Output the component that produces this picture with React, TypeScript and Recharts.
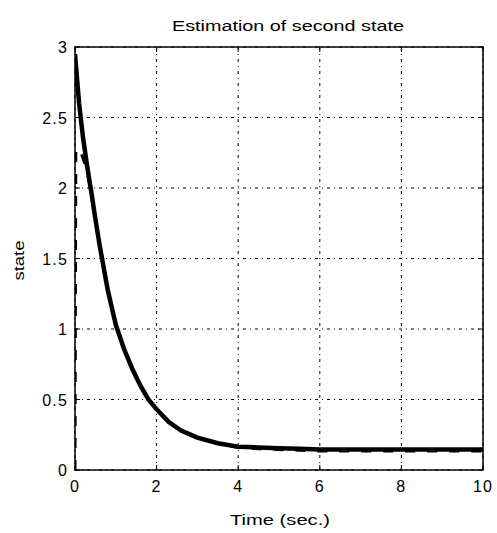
import React from "react"
import {
  LineChart,
  Line,
  XAxis,
  YAxis,
  CartesianGrid,
  ReferenceArea,
} from "recharts"

// estimated second state (solid)
const estTime = [0, 0.1, 0.2, 0.3, 0.4, 0.5, 0.6, 0.8, 1.0, 1.2, 1.4, 1.6, 1.8, 2.0, 2.3, 2.6, 3.0, 3.5, 4.0, 4.5, 5.0, 5.5, 6, 7, 8, 9, 10]
const estValue = [2.95, 2.6, 2.35, 2.15, 1.97, 1.78, 1.6, 1.28, 1.03, 0.86, 0.72, 0.6, 0.5, 0.43, 0.34, 0.28, 0.23, 0.19, 0.165, 0.16, 0.155, 0.15, 0.145, 0.145, 0.145, 0.145, 0.145]

// true second state (dashed)
const trueTime = [0, 0.02, 0.15, 0.3, 0.4, 0.5, 0.6, 0.8, 1.0, 1.2, 1.4, 1.6, 1.8, 2.0, 2.3, 2.6, 3.0, 3.5, 4.0, 4.5, 5.0, 5.5, 6, 7, 8, 9, 10]
const trueValue = [0, 2.28, 2.25, 2.12, 1.96, 1.78, 1.6, 1.28, 1.03, 0.86, 0.72, 0.6, 0.5, 0.43, 0.34, 0.28, 0.23, 0.19, 0.16, 0.15, 0.145, 0.14, 0.135, 0.135, 0.135, 0.135, 0.135]

const xTicks = [0, 2, 4, 6, 8, 10]
const yTicks = [0, 0.5, 1, 1.5, 2, 2.5, 3]

const estData = estTime.map((t, i) => ({ t, v: estValue[i] }))
const trueData = trueTime.map((t, i) => ({ t, v: trueValue[i] }))

const W = 497
const H = 533
const TOP = 47
const RIGHT = 14
const LEFT = 75
const BOTTOM = 63
const PLOT_H = H - TOP - BOTTOM
const PLOT_W = W - LEFT - RIGHT
const FONT = "'Liberation Sans', Arial, sans-serif"

function XTick(props: any) {
  const { x, y, payload } = props
  return (
    <g>
      <line x1={x} x2={x} y1={y} y2={y - 5} stroke="#000" />
      <line x1={x} x2={x} y1={y - PLOT_H} y2={y - PLOT_H + 5} stroke="#000" />
      <text x={x} y={y + 22} textAnchor="middle" fontSize={16} letterSpacing={1.2} fontFamily={FONT} fill="#000">
        {payload.value}
      </text>
    </g>
  )
}

function YTick(props: any) {
  const { x, y, payload } = props
  return (
    <g>
      <line x1={x} x2={x + 5} y1={y} y2={y} stroke="#000" />
      <line x1={x + PLOT_W} x2={x + PLOT_W - 5} y1={y} y2={y} stroke="#000" />
      <text x={x - 7} y={y + 6} textAnchor="end" fontSize={16} letterSpacing={1.2} fontFamily={FONT} fill="#000">
        {payload.value}
      </text>
    </g>
  )
}

export default function App() {
  const midY = TOP + PLOT_H / 2 + 2
  return (
    <div style={{ position: "absolute", left: 0, top: 0, width: W, height: H, background: "#fff" }}>
      <LineChart width={W} height={H} margin={{ top: TOP, right: RIGHT, bottom: 0, left: 0 }}>
        <text
          x={288}
          y={31}
          textAnchor="middle"
          fontSize={14}
          fontFamily={FONT}
          fill="#000"
          textLength={232}
          lengthAdjust="spacingAndGlyphs"
        >
          Estimation of second state
        </text>
        <text
          x={24}
          y={midY}
          textAnchor="middle"
          fontSize={14}
          fontFamily={FONT}
          fill="#000"
          textLength={40}
          lengthAdjust="spacingAndGlyphs"
          transform={`rotate(-90 24 ${midY})`}
        >
          state
        </text>
        <text
          x={280}
          y={H - 8}
          textAnchor="middle"
          fontSize={15}
          fontFamily={FONT}
          fill="#000"
          textLength={100}
          lengthAdjust="spacingAndGlyphs"
        >
          Time (sec.)
        </text>
        <CartesianGrid stroke="#000" strokeDasharray="3 4 1 4" />
        <XAxis
          type="number"
          dataKey="t"
          domain={[0, 10]}
          ticks={xTicks}
          height={BOTTOM}
          tickSize={0}
          tickMargin={0}
          tickLine={false}
          axisLine={false}
          tick={<XTick />}
          allowDataOverflow
        />
        <YAxis
          type="number"
          dataKey="v"
          domain={[0, 3]}
          ticks={yTicks}
          width={LEFT}
          tickSize={0}
          tickMargin={0}
          tickLine={false}
          axisLine={false}
          tick={<YTick />}
          allowDataOverflow
        />
        <ReferenceArea x1={0} x2={10} y1={0} y2={3} fill="none" stroke="#000" strokeWidth={1.5} ifOverflow="visible" />
        <Line
          data={trueData}
          dataKey="v"
          type="linear"
          stroke="#000"
          strokeWidth={3}
          strokeDasharray="10 12"
          dot={false}
          isAnimationActive={false}
        />
        <Line
          data={estData}
          dataKey="v"
          type="linear"
          stroke="#000"
          strokeWidth={4.5}
          dot={false}
          isAnimationActive={false}
        />
      </LineChart>
    </div>
  )
}
